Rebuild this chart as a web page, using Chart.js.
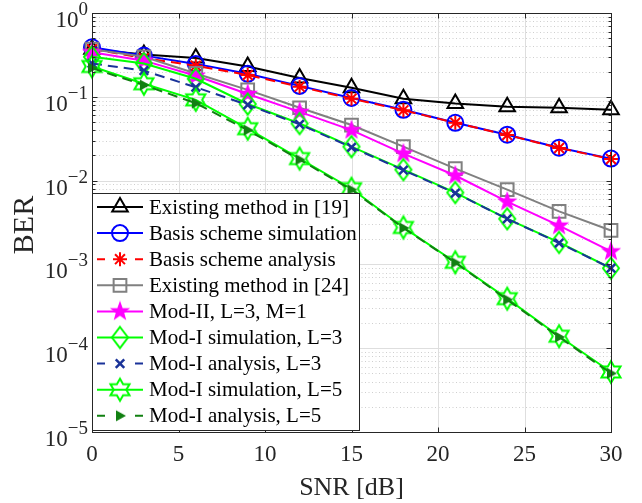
<!DOCTYPE html>
<html>
<head>
<meta charset="utf-8">
<script src="https://cdn.jsdelivr.net/npm/chart.js@4.4.1/dist/chart.umd.min.js"></script>
<style>
  html, body { margin: 0; padding: 0; background: #fff; }
  #wrap { width: 642px; height: 503px; }
</style>
</head>
<body>
<div id="wrap"><canvas id="berChart"></canvas></div>
<script>
// SNR points (dB)
const snrDb = [0, 3, 6, 9, 12, 15, 18, 21, 24, 27, 30];

// BER curves
const existing19 = [0.37, 0.32, 0.29, 0.23, 0.168, 0.128, 0.095, 0.083, 0.076, 0.074, 0.070];
const basisSim = [0.39, 0.31, 0.247, 0.188, 0.135, 0.097, 0.070, 0.049, 0.0353, 0.0247, 0.0183];
const basisAna = [0.37, 0.29, 0.235, 0.182, 0.132, 0.095, 0.069, 0.049, 0.035, 0.0245, 0.0181];
const existing24 = [0.37, 0.30, 0.19, 0.121, 0.074, 0.046, 0.0254, 0.0139, 0.0078, 0.0043, 0.00254];
const modII = [0.34, 0.27, 0.178, 0.108, 0.066, 0.040, 0.021, 0.0115, 0.0056, 0.0029, 0.00143];
const modISimL3 = [0.30, 0.25, 0.164, 0.082, 0.048, 0.0254, 0.0135, 0.0072, 0.0035, 0.00183, 0.00090];
const modIAnaL3 = [0.25, 0.205, 0.13, 0.080, 0.047, 0.025, 0.0133, 0.0071, 0.0035, 0.0018, 0.00090];
const modISimL5 = [0.23, 0.143, 0.092, 0.0416, 0.0183, 0.0080, 0.00276, 0.00106, 0.00039, 0.000139, 0.000052];
const modIAnaL5 = [0.22, 0.138, 0.084, 0.040, 0.0178, 0.0078, 0.00272, 0.00105, 0.00038, 0.000136, 0.000050];

// axis ticks
const xTicks = [0, 5, 10, 15, 20, 25, 30];
const yExponents = [0, -1, -2, -3, -4, -5];

const FONT = "'Liberation Serif', 'Times New Roman', serif";
const INK = '#262626';

// small helper to paint a marker into an offscreen canvas
function makeMarker(size, draw) {
    const c = document.createElement('canvas');
    c.width = size;
    c.height = size;
    draw(c.getContext('2d'), size / 2);
    return c;
}

function starPath(ctx, c, n, outer, inner) {
    ctx.beginPath();
    for (let i = 0; i < n * 2; i++) {
        const r = i % 2 === 0 ? outer : inner;
        const a = -Math.PI / 2 + i * Math.PI / n;
        const px = c + r * Math.cos(a);
        const py = c + r * Math.sin(a);
        if (i === 0) ctx.moveTo(px, py); else ctx.lineTo(px, py);
    }
    ctx.closePath();
}

const pentagram = makeMarker(22, (ctx, c) => {
    starPath(ctx, c, 5, 8.5, 3.5);
    ctx.fillStyle = '#ff00ff';
    ctx.strokeStyle = '#ff00ff';
    ctx.lineWidth = 1.5;
    ctx.fill();
    ctx.stroke();
});

const hexagram = makeMarker(28, (ctx, c) => {
    starPath(ctx, c, 6, 11, 6.3);
    ctx.strokeStyle = '#00ff00';
    ctx.lineWidth = 2;
    ctx.stroke();
});

const diamond = makeMarker(26, (ctx, c) => {
    ctx.beginPath();
    ctx.moveTo(c, c - 10.5);
    ctx.lineTo(c + 8, c);
    ctx.lineTo(c, c + 10.5);
    ctx.lineTo(c - 8, c);
    ctx.closePath();
    ctx.strokeStyle = '#00ff00';
    ctx.lineWidth = 2;
    ctx.stroke();
});

const triRight = makeMarker(16, (ctx, c) => {
    ctx.beginPath();
    ctx.moveTo(c + 6, c);
    ctx.lineTo(c - 4, c - 5.5);
    ctx.lineTo(c - 4, c + 5.5);
    ctx.closePath();
    ctx.fillStyle = '#118011';
    ctx.fill();
});

function series(label, values, color, style, opts = {}) {
    return {
        label: label,
        data: snrDb.map((x, i) => ({ x: x, y: values[i] })),
        borderColor: color,
        backgroundColor: color,
        borderWidth: opts.lineWidth || 2,
        borderDash: opts.dash || [],
        pointStyle: style,
        pointRadius: opts.radius || 8,
        pointBorderColor: color,
        pointBackgroundColor: opts.filled ? color : 'rgba(0,0,0,0)',
        pointBorderWidth: opts.markerWidth || 2,
        tension: 0,
        clip: false
    };
}

const datasets = [
    series('Existing method in [19]', existing19, '#000000', 'triangle', { radius: 9 }),
    series('Basis scheme simulation', basisSim, '#0000ff', 'circle', { radius: 8 }),
    series('Basis scheme analysis', basisAna, '#ff0000', 'star', { radius: 7, dash: [10, 6] }),
    series('Existing method in [24]', existing24, '#808080', 'rect', { radius: 9 }),
    series('Mod-II, L=3, M=1', modII, '#ff00ff', pentagram, { radius: 9 }),
    series('Mod-I simulation, L=3', modISimL3, '#00ff00', diamond, { radius: 10 }),
    series('Mod-I analysis, L=3', modIAnaL3, '#1a3399', 'crossRot', { radius: 6, dash: [10, 6], markerWidth: 2.5 }),
    series('Mod-I simulation, L=5', modISimL5, '#00ff00', hexagram, { radius: 11 }),
    series('Mod-I analysis, L=5', modIAnaL5, '#118011', triRight, { radius: 7, dash: [10, 6] })
];
// later series on top, like the original figure
datasets.forEach((d, i) => { d.order = datasets.length - i; });

const matlabAxes = {
    id: 'matlabAxes',
    beforeDatasetsDraw(chart) {
        const { ctx, chartArea: a, scales: { x, y } } = chart;
        ctx.save();
        ctx.lineWidth = 1;
        // minor y grid (dotted)
        ctx.strokeStyle = '#cfcfcf';
        ctx.setLineDash([1, 2.5]);
        yExponents.slice(1).forEach(e => {
            for (let m = 2; m <= 9; m++) {
                const py = Math.round(y.getPixelForValue(m * Math.pow(10, e))) + 0.5;
                ctx.beginPath(); ctx.moveTo(a.left, py); ctx.lineTo(a.right, py); ctx.stroke();
            }
        });
        // major grid (solid)
        ctx.setLineDash([]);
        ctx.strokeStyle = '#dedede';
        yExponents.forEach(e => {
            const py = Math.round(y.getPixelForValue(Math.pow(10, e))) + 0.5;
            ctx.beginPath(); ctx.moveTo(a.left, py); ctx.lineTo(a.right, py); ctx.stroke();
        });
        xTicks.forEach(v => {
            const px = Math.round(x.getPixelForValue(v)) + 0.5;
            ctx.beginPath(); ctx.moveTo(px, a.top); ctx.lineTo(px, a.bottom); ctx.stroke();
        });
        ctx.restore();
    },
    afterDatasetsDraw(chart) {
        const { ctx, chartArea: a, scales: { x, y } } = chart;
        const L = Math.round(a.left) + 0.5, R = Math.round(a.right) + 0.5;
        const T = Math.round(a.top) + 0.5, B = Math.round(a.bottom) + 0.5;
        ctx.save();
        ctx.strokeStyle = INK;
        ctx.lineWidth = 1;
        ctx.strokeRect(L, T, R - L, B - T);
        // tick marks, inward on all four sides
        ctx.beginPath();
        xTicks.forEach(v => {
            const px = Math.round(x.getPixelForValue(v)) + 0.5;
            ctx.moveTo(px, B); ctx.lineTo(px, B - 5);
            ctx.moveTo(px, T); ctx.lineTo(px, T + 5);
        });
        yExponents.forEach(e => {
            for (let m = 1; m <= 9; m++) {
                const v = m * Math.pow(10, e);
                if (v > 1.0001) break;
                const py = Math.round(y.getPixelForValue(v)) + 0.5;
                const len = m === 1 ? 5 : 3;
                ctx.moveTo(L, py); ctx.lineTo(L + len, py);
                ctx.moveTo(R, py); ctx.lineTo(R - len, py);
                if (e === -5) break;
            }
        });
        ctx.stroke();

        // y tick labels: 10 with superscript exponent
        ctx.fillStyle = INK;
        ctx.textBaseline = 'alphabetic';
        ctx.textAlign = 'left';
        yExponents.forEach(e => {
            const py = y.getPixelForValue(Math.pow(10, e));
            const expStr = e === 0 ? '0' : '\u2212' + (-e);
            ctx.font = '19px ' + FONT;
            const ew = ctx.measureText(expStr).width;
            ctx.font = '23px ' + FONT;
            const bw = ctx.measureText('10').width;
            const right = a.left - 4;
            ctx.fillText('10', right - ew - bw, py + 14);
            ctx.font = '19px ' + FONT;
            ctx.fillText(expStr, right - ew, py + 2);
        });

        // axis titles
        ctx.font = '26px ' + FONT;
        ctx.textAlign = 'center';
        ctx.fillText('SNR [dB]', (a.left + a.right) / 2, 495);
        ctx.save();
        ctx.translate(33, 225);
        ctx.rotate(-Math.PI / 2);
        ctx.font = '30px ' + FONT;
        ctx.fillText('BER', 0, 0);
        ctx.restore();

        // legend box
        const box = { left: L, top: 193.5, right: 359.5, bottom: 430.5 };
        ctx.fillStyle = '#ffffff';
        ctx.fillRect(box.left, box.top, box.right - box.left, box.bottom - box.top);
        ctx.strokeStyle = INK;
        ctx.strokeRect(box.left, box.top, box.right - box.left, box.bottom - box.top);
        const drawPoint = Chart.helpers && Chart.helpers.drawPoint;
        chart.data.datasets.forEach((d, i) => {
            const cy = 207 + i * 26.1;
            ctx.save();
            ctx.strokeStyle = d.borderColor;
            ctx.lineWidth = d.borderWidth;
            ctx.setLineDash(d.borderDash.length ? [8, 30] : []);
            ctx.beginPath();
            ctx.moveTo(97, cy); ctx.lineTo(143, cy);
            ctx.stroke();
            ctx.setLineDash([]);
            ctx.lineWidth = d.pointBorderWidth;
            ctx.fillStyle = d.pointBackgroundColor;
            if (drawPoint) {
                drawPoint(ctx, { pointStyle: d.pointStyle, radius: d.pointRadius, rotation: 0, borderWidth: d.pointBorderWidth }, 120, cy);
            }
            ctx.restore();
            ctx.fillStyle = '#000000';
            ctx.font = '21px ' + FONT;
            ctx.textAlign = 'left';
            ctx.textBaseline = 'middle';
            ctx.fillText(d.label, 149, cy + 1);
        });
        ctx.restore();
    }
};

new Chart(document.getElementById('berChart').getContext('2d'), {
    type: 'line',
    data: { datasets: datasets },
    options: {
        responsive: true,
        maintainAspectRatio: false,
        animation: false,
        devicePixelRatio: 1,
        layout: { padding: { top: 12, right: 31, left: 0, bottom: 0 } },
        plugins: {
            legend: { display: false },
            tooltip: { enabled: false }
        },
        scales: {
            x: {
                type: 'linear',
                min: 0,
                max: 30,
                afterBuildTicks: scale => { scale.ticks = xTicks.map(v => ({ value: v })); },
                afterFit: scale => { scale.height = 71; },
                grid: { display: false, drawTicks: false },
                border: { display: false },
                ticks: {
                    color: INK,
                    padding: 9,
                    maxRotation: 0,
                    autoSkip: false,
                    font: { family: FONT, size: 23 }
                }
            },
            y: {
                type: 'logarithmic',
                min: 1e-5,
                max: 1,
                afterFit: scale => { scale.width = 92; },
                grid: { display: false, drawTicks: false },
                border: { display: false },
                ticks: { display: false }
            }
        }
    },
    plugins: [matlabAxes]
});
</script>
</body>
</html>
